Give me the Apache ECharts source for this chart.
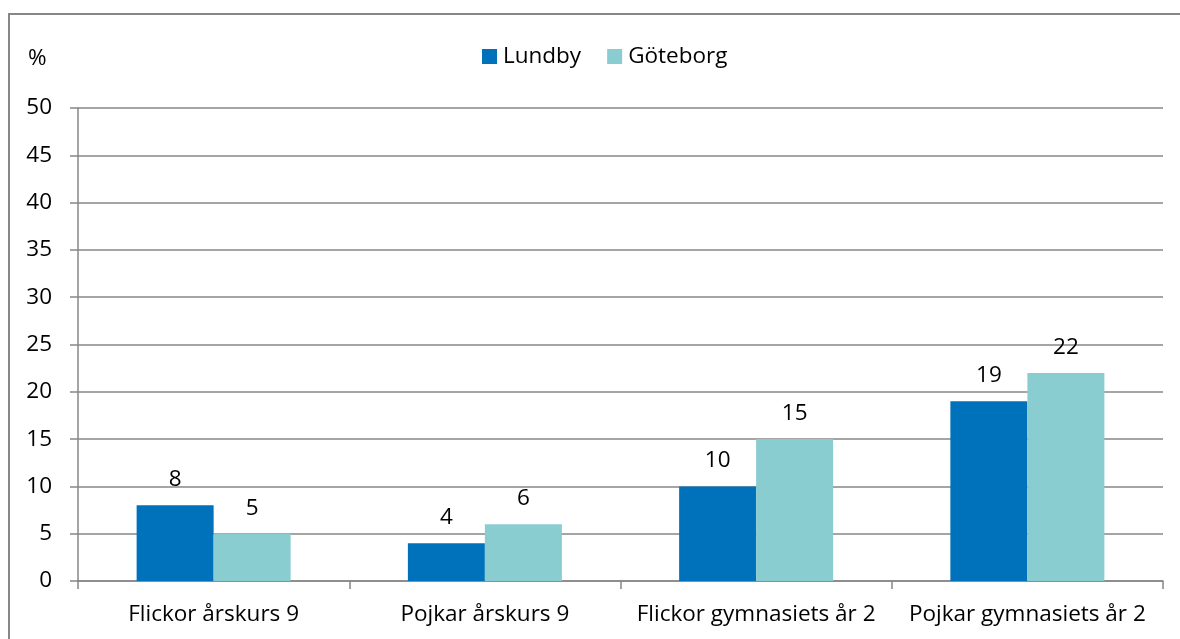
<!DOCTYPE html>
<html>
<head>
<meta charset="utf-8">
<script src="https://cdn.jsdelivr.net/npm/echarts@6/dist/echarts.min.js"></script>
<style>
  html, body { margin: 0; padding: 0; background: #fff; }
  #chart { width: 1180px; height: 639px; }
</style>
</head>
<body>
<div id="chart"></div>
<script>
const categories = ['Flickor årskurs 9', 'Pojkar årskurs 9', 'Flickor gymnasiets år 2', 'Pojkar gymnasiets år 2'];
const lundby = [8, 4, 10, 19];
const goteborg = [5, 6, 15, 22];

const FONT = 'Open Sans';
const FONT_SIZE = 22.5;
const GRAY = '#878787';

const labelStyle = {
    show: true,
    position: 'top',
    distance: 14,
    color: '#000',
    fontSize: FONT_SIZE,
    fontFamily: FONT
};

const chart = echarts.init(document.getElementById('chart'));
chart.setOption({
    animation: false,
    title: {
        text: '%',
        left: 28,
        top: 47,
        padding: 0,
        textStyle: { color: '#000', fontSize: FONT_SIZE, fontWeight: 'normal', fontFamily: FONT }
    },
    legend: {
        left: 482,
        top: 45,
        padding: 0,
        itemWidth: 15,
        itemHeight: 15,
        itemGap: 26,
        icon: 'rect',
        textStyle: { color: '#000', fontSize: FONT_SIZE, fontFamily: FONT, padding: [0, 0, 0, 1] }
    },
    grid: { left: 78, right: 17, top: 108, bottom: 58 },
    xAxis: {
        type: 'category',
        data: categories,
        axisLine: { lineStyle: { color: GRAY, width: 1.5 } },
        axisTick: { show: true, interval: 0, length: 8, lineStyle: { color: GRAY, width: 1.5 } },
        axisLabel: { interval: 0, color: '#000', fontSize: FONT_SIZE, fontFamily: FONT, margin: 22 }
    },
    yAxis: {
        type: 'value',
        min: 0,
        max: 50,
        interval: 5,
        axisLine: { show: true, lineStyle: { color: GRAY, width: 1.5 } },
        axisTick: { show: true, length: 8, lineStyle: { color: GRAY, width: 1.5 } },
        axisLabel: { color: '#000', fontSize: FONT_SIZE, fontFamily: FONT, margin: 26 },
        splitLine: { show: true, lineStyle: { color: GRAY, width: 1.5 } }
    },
    graphic: [{
        type: 'rect',
        shape: { x: 9, y: 14, width: 1300, height: 800 },
        style: { fill: 'none', stroke: GRAY, lineWidth: 2 },
        silent: true
    }],
    series: [
        {
            name: 'Lundby',
            type: 'bar',
            data: lundby,
            barWidth: 77,
            barGap: '0%',
            itemStyle: { color: '#0072BC' },
            label: labelStyle
        },
        {
            name: 'Göteborg',
            type: 'bar',
            data: goteborg,
            barWidth: 77,
            itemStyle: { color: '#89CDD1' },
            label: labelStyle
        }
    ]
});
</script>
</body>
</html>
